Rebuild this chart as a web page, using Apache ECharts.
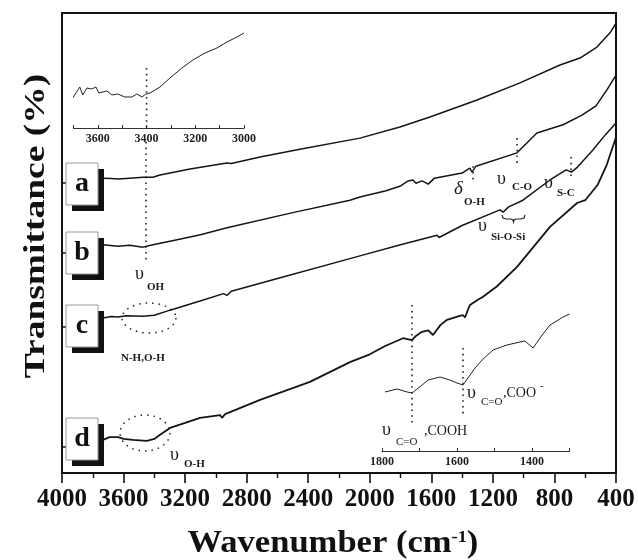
<!DOCTYPE html>
<html><head><meta charset="utf-8">
<script src="https://cdn.jsdelivr.net/npm/echarts@6/dist/echarts.min.js"></script>
<style>html,body{margin:0;padding:0;background:#fff}#c{width:638px;height:560px}</style>
</head><body><div id="c"></div>
<script>
// ---- main spectra (wavenumber cm-1, transmittance offset %) ----
const xTicks = [4000,3600,3200,2800,2400,2000,1600,1200,800,400];
const curveLabels = ['a','b','c','d'];

const wnA = [3780,3734,3680,3636,3560,3474,3409,3363,3168,2928,2900,2713,2454,2064,1804,1609,1303,1024,764,634,524,439,400];
const tA  = [64.1,64.1,64.0,63.9,64.1,64.3,64.3,64.8,66.1,67.4,67.3,68.7,70.4,72.8,75.2,77.4,81.1,84.8,88.7,90.2,92.6,95.7,97.8];

const wnB = [3780,3734,3636,3560,3474,3409,3298,3100,2928,2500,2129,2064,1900,1800,1750,1719,1700,1660,1620,1580,1400,1350,1336,1310,1043,914,744,621,530,459,400];
const tB  = [49.3,49.6,49.3,49.5,49.1,49.6,50.4,51.8,53.3,56.6,59.3,60.0,61.3,62.4,63.5,63.7,63.0,63.5,62.8,64.1,65.2,66.3,65.4,66.7,69.6,73.9,75.7,77.8,79.8,83.3,86.5];

const wnC = [3780,3734,3680,3636,3580,3474,3400,3298,3103,2950,2928,2900,2629,2064,1800,1563,1550,1400,1154,1134,1100,1005,829,724,690,650,550,470,400];
const tC  = [33.7,33.7,34.0,33.9,34.2,34.1,34.3,35.4,37.4,39.0,38.6,39.5,42.0,47.2,49.6,51.7,51.2,53.8,57.2,56.7,57.8,59.3,63.7,65.9,65.4,66.5,70.2,73.5,76.1];

const wnD = [3780,3734,3690,3636,3600,3540,3448,3400,3363,3298,3200,3103,2973,2960,2940,2713,2389,2129,2000,1900,1784,1726,1700,1661,1620,1589,1540,1498,1420,1394,1381,1360,1349,1300,1264,1173,1043,829,653,600,520,460,400];
const tD  = [7.6,7.2,7.8,7.8,7.4,7.2,7.0,7.4,8.3,9.8,10.9,12.0,12.6,12.0,12.8,15.9,19.8,24.1,25.8,27.6,29.3,28.9,29.8,30.7,31.0,30.0,32.2,33.3,34.1,34.3,33.8,35.7,36.5,37.6,38.3,40.6,44.8,53.5,58.7,59.3,62.6,67.0,73.0];
const curveStartT = [63.0,47.8,31.7,5.7];

// ---- inset 1 (3700-3000) ----
const inset1Ticks = [3600,3400,3200,3000];
const wnI1 = [3703,3674,3662,3645,3625,3608,3596,3563,3542,3518,3489,3460,3440,3419,3403,3386,3345,3304,3255,3210,3160,3111,3070,3029,3000];
const tI1  = [30,41,33,40,39,41,35,37,33,34,31,31,34,31,34,35,41,50,60,68,75,80,86,91,95];

// ---- inset 2 (1800-1300) ----
const inset2Ticks = [1800,1600,1400];
const wnI2 = [1792,1760,1733,1720,1693,1677,1645,1619,1600,1584,1552,1533,1504,1467,1432,1419,1397,1373,1352,1317,1300];
const tI2  = [59,62,59,58,66,71,74,71,68,66,83,91,101,106,109,110,103,116,126,134,137];

// ---- dotted guide lines [wavenumber, from, to] ----
const guidesMain = [[3454,72.0,45.9],[1329,66.7,63.0],[1043,72.8,66.5],[692,68.7,64.3]];
const guidesI1 = [[3400,60,0]];
const guidesI2 = [[1720,146,26],[1584,103,36]];

const serif = '"Liberation Serif","Times New Roman","DejaVu Serif",serif';
const ink = '#151515';
const pair = (w,t)=>w.map((v,i)=>[v,t[i]]);

const chart = echarts.init(document.getElementById('c'));

const series = [];
[[wnA,tA],[wnB,tB],[wnC,tC],[wnD,tD]].forEach((c,i)=>{
  series.push({type:'line',xAxisIndex:0,yAxisIndex:0,data:pair(c[0],c[1]),showSymbol:false,symbol:'none',
    lineStyle:{color:ink,width:i===3?1.8:1.5},z:3,silent:true});
});
series.push({type:'line',xAxisIndex:1,yAxisIndex:1,data:pair(wnI1,tI1),symbol:'none',lineStyle:{color:'#222',width:1},silent:true});
series.push({type:'line',xAxisIndex:2,yAxisIndex:2,data:pair(wnI2,tI2),symbol:'none',lineStyle:{color:'#222',width:1},silent:true});
const dotted = {color:'#222',width:1.6,type:[1.6,4.2]};
guidesMain.forEach(g=>series.push({type:'line',xAxisIndex:0,yAxisIndex:0,data:[[g[0],g[1]],[g[0],g[2]]],symbol:'none',lineStyle:dotted,silent:true}));
guidesI1.forEach(g=>series.push({type:'line',xAxisIndex:1,yAxisIndex:1,data:[[g[0],g[1]],[g[0],g[2]]],symbol:'none',lineStyle:dotted,silent:true}));
guidesI2.forEach(g=>series.push({type:'line',xAxisIndex:2,yAxisIndex:2,data:[[g[0],g[1]],[g[0],g[2]]],symbol:'none',lineStyle:dotted,silent:true}));

// label boxes
const boxTops = [163,232,305,418];
const graphics = [];
curveLabels.forEach((l,i)=>{
  const y=boxTops[i];
  graphics.push({type:'rect',z:20,shape:{x:72,y:y+6,width:32,height:42},style:{fill:'#111'}});
  graphics.push({type:'rect',z:21,shape:{x:66,y:y,width:32,height:42},style:{fill:'#fff',stroke:'#999',lineWidth:1}});
  graphics.push({type:'text',z:22,x:82,y:y+21,style:{text:l,font:'bold 28px '+serif,fill:'#111',textAlign:'center',align:'center',textVerticalAlign:'middle',verticalAlign:'middle'}});
});
function txt(s,x,y,size,opts){
  opts=opts||{};
  graphics.push({type:'text',z:25,x:x,y:y,style:{text:s,font:(opts.italic?'italic ':'')+(opts.bold?'bold ':'')+size+'px '+serif,fill:'#1a1a1a',
    textAlign:opts.align||'left',align:opts.align||'left',textVerticalAlign:'middle',verticalAlign:'middle'}});
}
// annotations
txt('υ',135,274,18); txt('OH',147,287,11,{bold:true});
txt('δ',454,189,19,{italic:true}); txt('O-H',464,202,11,{bold:true});
txt('υ',497,179,18); txt('C-O',512,187,11,{bold:true});
txt('υ',544,183,18); txt('S-C',557,193,11,{bold:true});
txt('υ',478,226,18); txt('Si-O-Si',491,237,11,{bold:true});
txt('N-H,O-H',121,358,11,{bold:true});
txt('υ',170,455,18); txt('O-H',184,464,11,{bold:true});
txt('υ',382,430,18); txt('C=O',396,442,11); txt(',COOH',424,431,14);
txt('υ',467,393,18); txt('C=O',481,402,11); txt(',COO',503,393,14); txt('-',540,386,11);
// brace under Si-O-Si
graphics.push({type:'polyline',z:25,shape:{points:[[502,215],[503,218],[506,219],[511,219],[513,220],[513.5,222],[514,220],[516,219],[521,219],[524,218],[525,215]]},style:{fill:null,stroke:'#222',lineWidth:1.2}});
// dotted ellipses (outline shapes)
function ellipsePts(cx,cy,rx,ry){
  const p=[];
  for(let k=0;k<=48;k++){const a=k/48*Math.PI*2;p.push([cx+rx*Math.cos(a),cy+ry*Math.sin(a)]);}
  return p;
}
graphics.push({type:'polyline',z:25,shape:{points:ellipsePts(149,318,27,15)},style:{fill:null,stroke:'#222',lineWidth:1.5,lineDash:[1.5,5]}});
graphics.push({type:'polyline',z:25,shape:{points:ellipsePts(145,433,25,18)},style:{fill:null,stroke:'#222',lineWidth:1.5,lineDash:[1.5,5]}});
// axis titles
graphics.push({type:'text',z:25,x:333,y:544,scaleX:1.08,style:{
  text:'{m|Wavenumber (cm}{s|-1}{m|)}',textAlign:'center',align:'center',textVerticalAlign:'middle',verticalAlign:'middle',
  rich:{m:{font:'bold 32px '+serif,fill:'#111',verticalAlign:'bottom'},s:{font:'bold 17px '+serif,fill:'#111',verticalAlign:'bottom',padding:[0,0,14,0]}}}});
graphics.push({type:'text',z:25,x:36,y:226,rotation:Math.PI/2,scaleX:1.25,style:{
  text:'Transmittance (%)',font:'bold 30px '+serif,fill:'#111',textAlign:'center',align:'center',textVerticalAlign:'middle',verticalAlign:'middle'}});

const insetAxisCommon = {
  type:'value',inverse:true,splitLine:{show:false},
  axisLine:{lineStyle:{color:'#333',width:1}},
  axisTick:{inside:true,length:3,lineStyle:{color:'#333'}},
  minorTick:{show:true,splitNumber:2,length:3,lineStyle:{color:'#333'}},
  axisLabel:{color:'#222',fontFamily:serif,fontWeight:'bold',fontSize:12,margin:5}
};

chart.setOption({
  animation:false,
  backgroundColor:'#fff',
  grid:[
    {left:62,top:13,width:554,height:460,show:true,borderColor:'#111',borderWidth:2,backgroundColor:'transparent'},
    {left:73.5,top:20,width:170.5,height:108},
    {left:382,top:300,width:187.5,height:151}
  ],
  xAxis:[
    {gridIndex:0,type:'value',min:400,max:4000,interval:400,inverse:true,splitLine:{show:false},
      axisLine:{lineStyle:{color:'#111',width:2}},
      axisTick:{length:10,lineStyle:{color:'#111',width:1.6}},
      minorTick:{show:true,splitNumber:2,length:5,lineStyle:{color:'#111',width:1.4}},
      axisLabel:{color:'#111',fontFamily:serif,fontWeight:'bold',fontSize:25,margin:14,formatter:v=>String(v)}},
    Object.assign({},insetAxisCommon,{gridIndex:1,min:3000,max:3700,interval:200,
      axisLabel:Object.assign({},insetAxisCommon.axisLabel,{formatter:v=>inset1Ticks.indexOf(v)>=0?String(v):''})}),
    Object.assign({},insetAxisCommon,{gridIndex:2,min:1300,max:1800,interval:100,minorTick:{show:false},
      axisLabel:Object.assign({},insetAxisCommon.axisLabel,{formatter:v=>inset2Ticks.indexOf(v)>=0?String(v):''})})
  ],
  yAxis:[
    {gridIndex:0,type:'value',min:0,max:100,splitLine:{show:false},axisLabel:{show:false},
      axisLine:{lineStyle:{color:'#111',width:2}},
      axisTick:{show:true,inside:true,length:4,customValues:curveStartT,lineStyle:{color:'#111',width:1.5}}},
    {gridIndex:1,type:'value',min:0,max:108,show:false},
    {gridIndex:2,type:'value',min:0,max:151,show:false}
  ],
  series:series,
  graphic:{elements:graphics}
});
</script></body></html>
